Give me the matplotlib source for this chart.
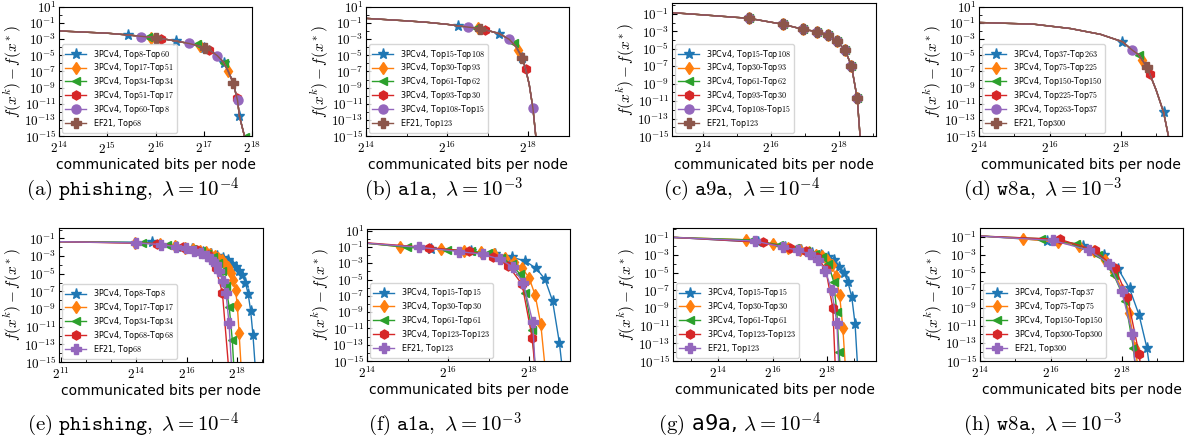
import re
import numpy as np
import matplotlib
matplotlib.use("Agg")
import matplotlib.pyplot as plt
from matplotlib.lines import Line2D
from matplotlib.ticker import FixedLocator, FuncFormatter, NullFormatter

plt.rcParams['mathtext.fontset'] = 'cm'
plt.rcParams['font.family'] = 'DejaVu Sans'

# x values are log2(bits per node), y values are log10(f(x^k) - f(x^*))

# ---------------- top row: all methods on one trajectory ----------------
# (a) phishing
a_labels = ["3PCv4, Top8-Top60", "3PCv4, Top17-Top51", "3PCv4, Top34-Top34",
            "3PCv4, Top51-Top17", "3PCv4, Top60-Top8", "EF21, Top68"]
a_curve_x = [14.0, 15.0, 15.43, 15.84, 16.02, 16.43, 16.69, 16.92, 17.11, 17.28,
             17.41, 17.5, 17.61, 17.70, 17.74, 17.86]
a_curve_y = [-1.97, -2.25, -2.47, -2.72, -2.81, -3.23, -3.52, -3.86, -4.28, -5.03,
             -5.85, -6.88, -8.39, -10.58, -12.55, -15.4]
a_mx = [[15.43, 16.43, 17.01, 17.42, 17.74], [15.90, 16.92, 17.50],
        [15.84, 16.87, 17.42, 17.85], [16.11, 17.11, 17.69],
        [15.69, 16.69, 17.28, 17.70], [16.02, 17.02, 17.61]]
a_my = [[-2.47, -3.23, -4.05, -5.96, -12.55], [-2.81, -3.86, -6.88],
        [-2.72, -3.65, -5.9, -15.1], [-2.93, -4.28, -10.3],
        [-2.68, -3.52, -5.03, -10.58], [-2.81, -4.07, -8.39]]

# (b) a1a
b_labels = ["3PCv4, Top15-Top108", "3PCv4, Top30-Top93", "3PCv4, Top61-Top62",
            "3PCv4, Top93-Top30", "3PCv4, Top108-Top15", "EF21, Top123"]
b_curve_x = [14.0, 15.0, 15.5, 16.0, 16.27, 16.52, 16.75, 16.93, 17.1, 17.28,
             17.53, 17.7, 17.85, 17.93, 18.02, 18.11, 18.19]
b_curve_y = [-0.41, -0.72, -0.9, -1.15, -1.34, -1.5, -1.62, -1.82, -2.05, -2.3,
             -3.02, -3.95, -5.33, -6.67, -8.6, -11.5, -15.4]
b_mx = [[16.27, 17.28, 17.85], [16.75, 17.74], [16.71, 17.65], [16.93, 17.93],
        [16.52, 17.53, 18.11], [16.81, 17.85]]
b_my = [[-1.34, -2.3, -5.33], [-1.62, -4.28], [-1.6, -3.52], [-1.82, -6.67],
        [-1.5, -3.02, -11.5], [-1.7, -5.33]]

# (c) a9a -- every method sits on the same iterates
c_labels = b_labels
c_curve_x = [13.1, 14.0, 15.36, 16.36, 16.94, 17.36, 17.68, 17.94, 18.17, 18.36,
             18.53, 18.62]
c_curve_y = [-0.85, -1.1, -1.5, -2.19, -2.76, -3.03, -3.41, -4.1, -5.14, -6.94,
             -10.69, -15.4]
c_iter_x = [15.36, 16.36, 16.94, 17.36, 17.68, 17.94, 18.17, 18.36, 18.53]
c_iter_y = [-1.5, -2.19, -2.76, -3.03, -3.41, -4.1, -5.14, -6.94, -10.69]

# (d) w8a
d_labels = ["3PCv4, Top37-Top263", "3PCv4, Top75-Top225", "3PCv4, Top150-Top150",
            "3PCv4, Top225-Top75", "3PCv4, Top263-Top37", "EF21, Top300"]
d_curve_x = [14.0, 15.54, 16.58, 17.43, 18.05, 18.33, 18.52, 18.61, 18.73, 18.82,
             19.0, 19.21, 19.36]
d_curve_y = [-0.92, -1.13, -1.67, -2.39, -3.31, -4.36, -4.95, -5.6, -6.38, -7.3,
             -9.3, -12.05, -15.3]
d_mx = [[18.05, 19.21], [18.61], [18.52], [18.82], [18.33], [18.73]]
d_my = [[-3.31, -12.05], [-5.6], [-4.95], [-7.3], [-4.36], [-6.38]]

# ---------------- bottom row: each method its own trajectory ----------------
e_labels = ["3PCv4, Top8-Top8", "3PCv4, Top17-Top17", "3PCv4, Top34-Top34",
            "3PCv4, Top68-Top68", "EF21, Top68"]
e_x = [[10.93, 14.63, 15.63, 16.21, 16.63, 16.95, 17.21, 17.44, 17.63, 17.80, 17.95,
        18.09, 18.21, 18.33, 18.44, 18.54, 18.63, 18.72],
       [10.93, 13.94, 14.94, 15.52, 15.94, 16.26, 16.52, 16.75, 16.94, 17.11, 17.26,
        17.40, 17.52, 17.64, 17.75, 17.85, 17.94, 18.01, 18.08, 18.16],
       [10.93, 14.23, 15.23, 15.81, 16.23, 16.55, 16.81, 17.04, 17.23, 17.40, 17.55,
        17.69, 17.81, 17.87],
       [10.93, 14.84, 15.84, 16.42, 16.84, 17.16, 17.42, 17.66],
       [10.93, 13.98, 14.98, 15.56, 15.98, 16.30, 16.56, 16.79, 16.98, 17.15, 17.30,
        17.44, 17.56, 17.68, 17.78]]
e_y = [[-1.38, -1.45, -1.95, -2.25, -2.5, -2.75, -3.0, -3.25, -3.5, -3.85, -4.2,
        -4.65, -5.2, -6.0, -7.3, -9.2, -11.9, -15.5],
       [-1.38, -1.5, -1.62, -1.85, -2.05, -2.2, -2.38, -2.55, -2.75, -2.95, -3.2,
        -3.5, -3.85, -4.3, -4.9, -5.7, -6.8, -8.6, -11.7, -15.5],
       [-1.38, -1.5, -1.75, -2.0, -2.2, -2.45, -2.75, -3.15, -3.8, -4.75, -6.4,
        -8.8, -12.5, -15.5],
       [-1.38, -1.6, -2.0, -2.3, -2.85, -4.4, -7.2, -15.5],
       [-1.38, -1.52, -1.7, -1.95, -2.15, -2.4, -2.65, -2.95, -3.35, -3.9, -4.7,
        -5.8, -7.2, -10.6, -15.5]]

f_labels = ["3PCv4, Top15-Top15", "3PCv4, Top30-Top30", "3PCv4, Top61-Top61",
            "3PCv4, Top123-Top123", "EF21, Top123"]
f_x = [[14.0, 15.57, 16.57, 17.16, 17.57, 17.89, 18.16, 18.38, 18.57, 18.74, 18.80],
       [14.0, 14.82, 15.82, 16.40, 16.82, 17.14, 17.40, 17.63, 17.82, 17.99, 18.14,
        18.28, 18.38],
       [14.0, 14.98, 15.98, 16.56, 16.98, 17.30, 17.56, 17.76, 17.90, 18.06, 18.14],
       [14.0, 15.52, 16.52, 17.10, 17.48, 17.82, 18.07, 18.13],
       [14.0, 15.27, 16.27, 16.85, 17.27, 17.59, 17.85, 18.08, 18.14]]
f_y = [[-0.55, -1.2, -1.55, -1.85, -2.27, -2.71, -3.61, -4.92, -7.61, -12.8, -15.5],
       [-0.55, -0.96, -1.29, -1.49, -1.65, -1.9, -2.3, -2.85, -3.6, -4.76, -6.88,
        -10.47, -15.5],
       [-0.55, -1.05, -1.32, -1.52, -1.8, -2.3, -3.1, -4.3, -6.6, -11.2, -15.5],
       [-0.5, -1.08, -1.55, -2.2, -3.3, -5.6, -12.2, -15.5],
       [-0.55, -1.04, -1.57, -1.9, -2.5, -3.45, -5.45, -10.2, -15.5]]

g_labels = f_labels
g_x = [[12.33, 15.45, 16.45, 17.03, 17.45, 17.77, 18.03, 18.26, 18.45, 18.62, 18.77,
        18.91, 19.03, 19.12],
       [12.33, 15.0, 16.0, 16.58, 17.0, 17.32, 17.58, 17.81, 18.0, 18.17, 18.32,
        18.46, 18.58, 18.67],
       [12.33, 15.24, 16.24, 16.82, 17.24, 17.56, 17.82, 18.05, 18.24, 18.36, 18.44,
        18.48],
       [12.33, 15.63, 16.63, 17.21, 17.63, 17.95, 18.21, 18.30],
       [12.33, 15.36, 16.36, 16.94, 17.36, 17.68, 17.94, 18.17, 18.36, 18.43]]
g_y = [[-1.0, -1.55, -2.05, -2.4, -2.75, -3.0, -3.25, -3.6, -4.3, -5.0, -6.1, -7.8,
        -10.8, -15.5],
       [-1.0, -1.27, -1.78, -2.15, -2.45, -2.7, -2.95, -3.15, -3.55, -4.1, -5.4,
        -7.5, -11.3, -15.5],
       [-1.0, -1.3, -1.85, -2.25, -2.55, -2.85, -3.2, -4.0, -6.0, -9.5, -14.0, -15.5],
       [-1.0, -1.56, -2.2, -2.6, -3.2, -4.6, -9.0, -15.5],
       [-1.0, -1.42, -2.1, -2.45, -2.9, -3.6, -4.8, -7.0, -10.7, -15.5]]

h_labels = ["3PCv4, Top37-Top37", "3PCv4, Top75-Top75", "3PCv4, Top150-Top150",
            "3PCv4, Top300-Top300", "EF21, Top300"]
h_x = [[14.0, 15.9, 16.9, 17.49, 17.9, 18.22, 18.49, 18.71, 18.78],
       [14.0, 15.21, 16.21, 16.79, 17.21, 17.53, 17.79, 18.02, 18.21, 18.38, 18.45],
       [14.0, 15.73, 16.72, 17.34, 17.78, 18.1, 18.33, 18.38],
       [14.0, 16.25, 17.24, 17.81, 18.16, 18.49, 18.53],
       [14.0, 16.06, 17.08, 17.64, 18.0, 18.3, 18.38]]
h_y = [[-0.89, -1.4, -2.0, -3.0, -4.6, -6.8, -9.8, -13.5, -15.5],
       [-0.89, -1.19, -1.6, -2.0, -2.6, -3.6, -5.0, -7.0, -9.6, -13.5, -15.5],
       [-0.89, -1.19, -1.75, -3.0, -5.3, -8.2, -13.5, -15.5],
       [-0.89, -1.26, -2.5, -4.5, -7.77, -14.2, -15.5],
       [-0.89, -1.38, -2.5, -4.01, -7.13, -11.9, -15.5]]

captions = [r"$\mathrm{(a)}\ \mathtt{phishing},\ \lambda = 10^{-4}$",
            r"$\mathrm{(b)}\ \mathtt{a1a},\ \lambda = 10^{-3}$",
            r"$\mathrm{(c)}\ \mathtt{a9a},\ \lambda = 10^{-4}$",
            r"$\mathrm{(d)}\ \mathtt{w8a},\ \lambda = 10^{-3}$",
            r"$\mathrm{(e)}\ \mathtt{phishing},\ \lambda = 10^{-4}$",
            r"$\mathrm{(f)}\ \mathtt{a1a},\ \lambda = 10^{-3}$",
            r"$\mathrm{(g)}$ a9a, $\lambda = 10^{-4}$",
            r"$\mathrm{(h)}\ \mathtt{w8a},\ \lambda = 10^{-3}$"]

top_markers = ['*', 'd', '<', 'h', 'o', 'P']
bot_markers = ['*', 'd', '<', 'h', 'P']
msize = {'*': 8, 'd': 6.5, '<': 6, 'h': 6.5, 'o': 6.5, 'P': 6.5}

W, H = 1185, 444
fig = plt.figure(figsize=(W / 100, H / 100), dpi=100)


def px_axes(l, t, r, b):
    ax = fig.add_axes([l / W, 1 - b / H, (r - l) / W, (b - t) / H])
    return ax, (r - l)


def nice(lab):
    return re.sub(r'Top(\d+)', r'Top$\1$', lab)


def setup(ax, wpx, xlim, xmajor, ytop, ymajor):
    ax.set_xscale('log', base=2)
    ax.set_yscale('log')
    ax.set_xlim(2.0 ** xlim[0], 2.0 ** xlim[1])
    ax.set_ylim(1e-15, 10.0 ** ytop)
    xs = np.arange(int(np.floor(xlim[0])), int(np.ceil(xlim[1])) + 1)
    ax.xaxis.set_major_locator(FixedLocator([2.0 ** k for k in xmajor]))
    ax.xaxis.set_minor_locator(FixedLocator([2.0 ** k for k in xs if k not in xmajor]))
    ax.xaxis.set_major_formatter(FuncFormatter(lambda v, p: r"$2^{%d}$" % round(np.log2(v))))
    ax.xaxis.set_minor_formatter(NullFormatter())
    ys = np.arange(-15, 2)
    ax.yaxis.set_major_locator(FixedLocator([10.0 ** k for k in ymajor]))
    ax.yaxis.set_minor_locator(FixedLocator([10.0 ** k for k in ys if k not in ymajor]))
    ax.yaxis.set_major_formatter(FuncFormatter(lambda v, p: r"$10^{%d}$" % round(np.log10(v))))
    ax.yaxis.set_minor_formatter(NullFormatter())
    ax.tick_params(axis='both', which='both', direction='in')
    ax.tick_params(axis='y', which='major', labelsize=9.5, pad=2)
    ax.tick_params(axis='x', which='major', labelsize=9.5, pad=3.5)
    ax.set_xlabel("communicated bits per node", fontsize=10, labelpad=1)
    ax.set_ylabel(r"$f(x^k) - f(x^*)$", fontsize=11)
    ax.yaxis.set_label_coords(-35.0 / wpx, 0.5)


def legend(ax, handles):
    ax.legend(handles=handles, loc='lower left', fontsize=5.8, handlelength=2.6,
              borderaxespad=0.4, labelspacing=0.1, borderpad=0.4)


def draw_shared(ax, cx, cy, mxs, mys, labels):
    handles = []
    for i, lab in enumerate(labels):
        m = top_markers[i]
        c = 'C%d' % i
        ax.plot(2.0 ** np.array(cx), 10.0 ** np.array(cy), color=c, lw=1)
        ax.plot(2.0 ** np.array(mxs[i]), 10.0 ** np.array(mys[i]), ls='none',
                marker=m, ms=msize[m], color=c)
        handles.append(Line2D([], [], color=c, lw=1, marker=m, ms=msize[m], label=nice(lab)))
    legend(ax, handles)


def draw_series(ax, xs, ys, labels):
    for i, lab in enumerate(labels):
        m = bot_markers[i]
        ax.plot(2.0 ** np.array(xs[i]), 10.0 ** np.array(ys[i]), color='C%d' % i, lw=1,
                marker=m, ms=msize[m], markevery=slice(1, len(xs[i]) - 1), label=nice(lab))
    h, l = ax.get_legend_handles_labels()
    legend(ax, h)


odd1 = [1, -1, -3, -5, -7, -9, -11, -13, -15]
odd = odd1[1:]

ax, w = px_axes(59, 7, 252, 136)
setup(ax, w, (14, 18), [14, 15, 16, 17, 18], 1, odd1)
draw_shared(ax, a_curve_x, a_curve_y, a_mx, a_my, a_labels)

ax, w = px_axes(366, 7, 569, 136)
setup(ax, w, (14, 19), [14, 16, 18], 1, odd1)
draw_shared(ax, b_curve_x, b_curve_y, b_mx, b_my, b_labels)

ax, w = px_axes(672, 3, 876, 136)
setup(ax, w, (13.1, 19.08), [14, 16, 18], 0.26, odd)
draw_shared(ax, c_curve_x, c_curve_y, [c_iter_x] * 6, [c_iter_y] * 6, c_labels)

ax, w = px_axes(979, 7, 1182, 136)
setup(ax, w, (14, 19.73), [14, 16, 18], 1, odd1)
draw_shared(ax, d_curve_x, d_curve_y, d_mx, d_my, d_labels)

ax, w = px_axes(59, 228, 263, 362)
setup(ax, w, (10.93, 19.03), [11, 14, 16, 18], 0.17, odd)
draw_series(ax, e_x, e_y, e_labels)

ax, w = px_axes(367, 229, 570, 361)
setup(ax, w, (14, 19), [14, 16, 18], 1.2, odd1)
draw_series(ax, f_x, f_y, f_labels)

ax, w = px_axes(673, 228, 876, 361)
setup(ax, w, (12.33, 19.8), [14, 16, 18], 0.06, odd)
draw_series(ax, g_x, g_y, g_labels)

ax, w = px_axes(980, 228, 1183, 361)
setup(ax, w, (14, 19.73), [14, 16, 18], 0.02, odd)
draw_series(ax, h_x, h_y, h_labels)

cap_x = [133, 444, 742, 1043, 133, 445, 740, 1043]
cap_y = [190, 190, 190, 190, 425, 425, 425, 425]
for k, txt in enumerate(captions):
    fig.text(cap_x[k] / W, 1 - cap_y[k] / H, txt, ha='center', va='center', fontsize=15)

fig.savefig("out.png", dpi=100)
